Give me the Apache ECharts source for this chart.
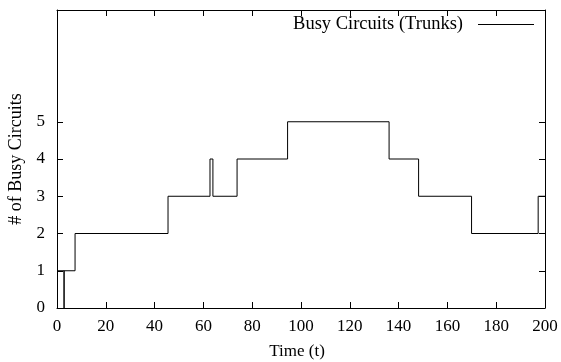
<!DOCTYPE html>
<html><head><meta charset="utf-8">
<script src="https://cdn.jsdelivr.net/npm/echarts@6/dist/echarts.min.js"></script>
<style>html,body{margin:0;padding:0;background:#fff}#c{width:561px;height:362px}</style>
</head><body><div id="c"></div>
<script>
// event times (t) and number of busy circuits from that time on
const times  = [0, 2.9, 2.9, 7.4, 45.5, 62.7, 63.9, 73.8, 94.5, 136.1, 148.2, 169.9, 197.2, 200];
const busy   = [1, 0,   1,   2,   3,    4,    3,    4,    5,    4,     3,     2,     3,     3];
const xTicks = [0, 20, 40, 60, 80, 100, 120, 140, 160, 180, 200];
const yTicks = [0, 1, 2, 3, 4, 5];
const seriesName = 'Busy Circuits (Trunks)';

const FONT = 'Liberation Serif';
const chart = echarts.init(document.getElementById('c'), null, {renderer: 'canvas'});
const tick = {show: true, inside: true, length: 6, lineStyle: {color: '#000', width: 1}};
const line = {show: true, onZero: false, lineStyle: {color: '#000', width: 1}};
chart.setOption({
  animation: false,
  backgroundColor: '#fff',
  textStyle: {fontFamily: FONT},
  grid: {left: 57, right: 16, top: 10, bottom: 54, show: false, containLabel: false, outerBoundsMode: 'none'},
  legend: {show: false},
  graphic: [
    {type: 'text', right: 98, top: 15, style: {text: seriesName, fontFamily: FONT, fontSize: 18.5, fill: '#000'}},
    {type: 'line', shape: {x1: 478, y1: 24.5, x2: 534, y2: 24.5}, style: {stroke: '#000', lineWidth: 1}}
  ],
  xAxis: [
    {type: 'value', min: 0, max: 200, interval: 20, position: 'bottom',
     axisLine: line, axisTick: Object.assign({customValues: xTicks}, tick),
     axisLabel: {customValues: xTicks, color: '#000', fontSize: 17, fontFamily: FONT, margin: 10},
     splitLine: {show: false},
     name: 'Time (t)', nameLocation: 'middle', nameGap: 35,
     nameTextStyle: {color: '#000', fontSize: 17, fontFamily: FONT, padding: [0, 8, 0, 0]}},
    {type: 'value', min: 0, max: 200, interval: 20, position: 'top',
     axisLine: line, axisTick: Object.assign({customValues: xTicks}, tick),
     axisLabel: {show: false}, splitLine: {show: false}}
  ],
  yAxis: [
    {type: 'value', min: 0, max: 8, interval: 1, position: 'left',
     axisLine: line, axisTick: Object.assign({customValues: yTicks}, tick),
     axisLabel: {customValues: yTicks, color: '#000', fontSize: 17, fontFamily: FONT, margin: 12},
     splitLine: {show: false},
     name: '# of Busy Circuits', nameLocation: 'middle', nameGap: 32,
     nameTextStyle: {color: '#000', fontSize: 18, fontFamily: FONT}},
    {type: 'value', min: 0, max: 8, interval: 1, position: 'right',
     axisLine: line, axisTick: Object.assign({customValues: yTicks}, tick),
     axisLabel: {show: false}, splitLine: {show: false}}
  ],
  series: [{
    name: seriesName, type: 'line', step: 'end', showSymbol: false, symbol: 'none',
    lineStyle: {color: '#000', width: 1}, itemStyle: {color: '#000'},
    data: times.map((t, i) => [t, busy[i]])
  }]
});
</script></body></html>
